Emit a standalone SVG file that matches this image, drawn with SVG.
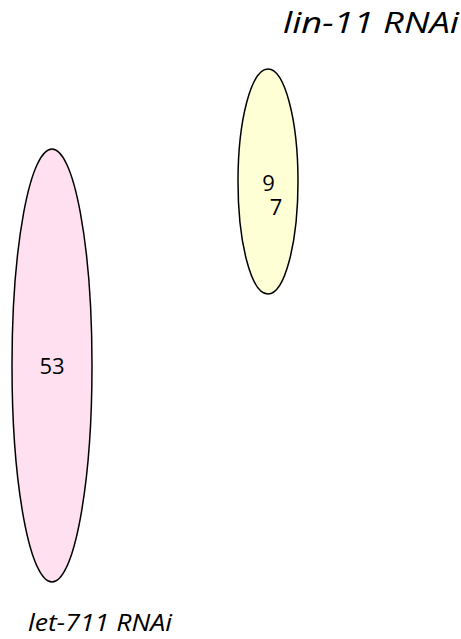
<svg xmlns="http://www.w3.org/2000/svg" width="461" height="639" viewBox="0 0 461 639">
<style>
.e{stroke:#000;stroke-width:1.5}
.t{font-family:"Open Sans","Liberation Sans",sans-serif;fill:#000}
.lab{font-style:italic}
</style>
<rect width="461" height="639" fill="#fff"/>
<g id="let711">
<ellipse class="e" cx="52" cy="365.5" rx="40" ry="216.5" fill="#ffe0f0"/>
<text class="t" x="52" y="374" font-size="22" text-anchor="middle">53</text>
<text class="t lab" x="28" y="631" font-size="23" textLength="144" lengthAdjust="spacingAndGlyphs">let-711 RNAi</text>
</g>
<g id="lin11">
<ellipse class="e" cx="268" cy="181.5" rx="30" ry="112.5" fill="#ffffd6"/>
<text class="t" x="268.5" y="191" font-size="22" text-anchor="middle">9</text>
<text class="t" x="276" y="215" font-size="22" text-anchor="middle">7</text>
<text class="t lab" x="283" y="33" font-size="29" textLength="176" lengthAdjust="spacingAndGlyphs">lin-11 RNAi</text>
</g>
<g id="connectors"></g>
</svg>
